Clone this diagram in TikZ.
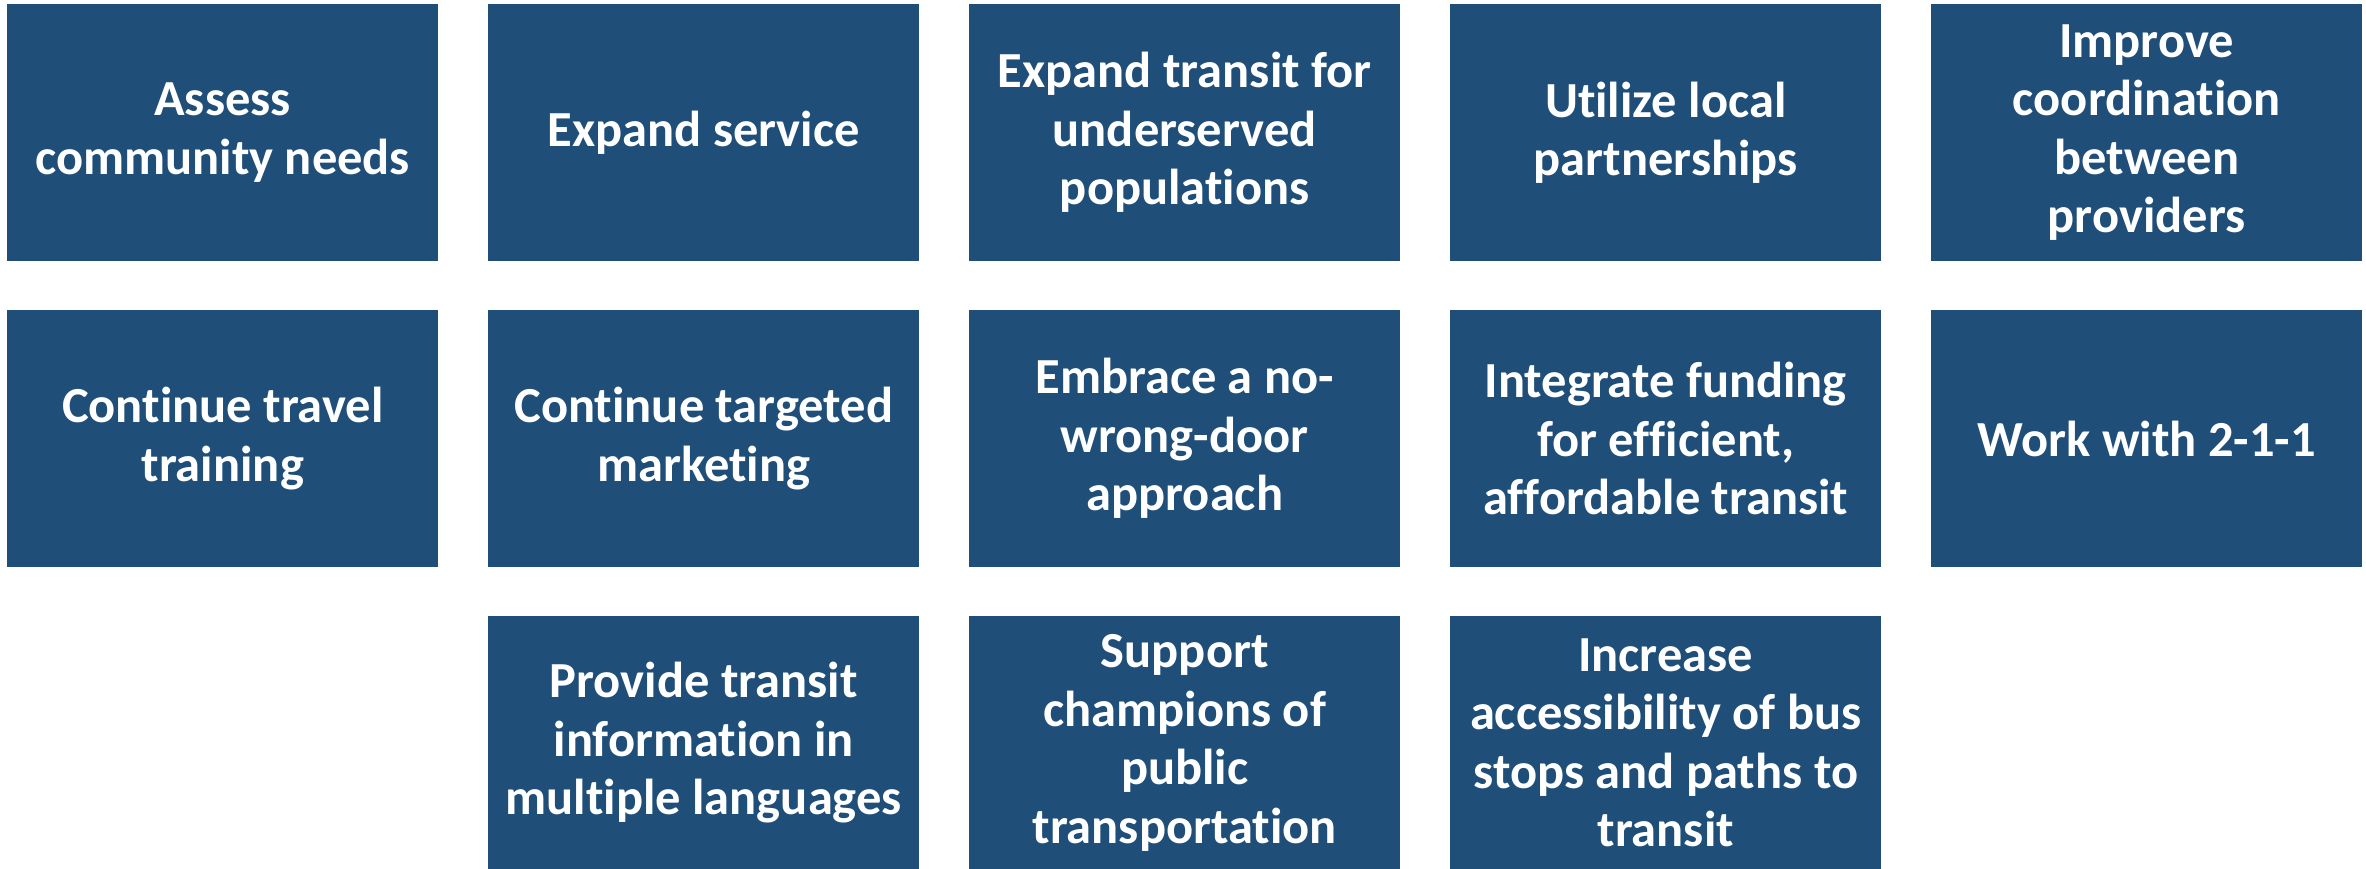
\documentclass[tikz,border=0pt]{standalone}
\usepackage{fontspec}
\setmainfont{Carlito}[Ligatures={NoCommon}]
\definecolor{boxblue}{HTML}{1F4E79}
\tikzset{
  tile/.style={draw=none, fill=boxblue, text=white, anchor=north west,
    minimum width=431pt, minimum height=257pt, inner sep=0pt, align=center,
    font=\fontsize{50.5}{58.5}\selectfont\bfseries},
  lasttile/.style={tile, minimum height=253pt}
}
\begin{document}
\begin{tikzpicture}[x=1pt,y=-1pt]
\useasboundingbox (0,0) rectangle (2366,869);
% row 1
\node[tile] (a1) at (7,4) {Assess\\community needs};
\node[tile] (a2) at (488,4) {Expand service};
\node[tile] (a3) at (969,4) {Expand transit for\\underserved\\populations};
\node[tile] (a4) at (1450,4) {Utilize local\\partnerships};
\node[tile] (a5) at (1931,4) {Improve\\coordination\\between\\providers};
% row 2
\node[tile] (b1) at (7,310) {Continue travel\\training};
\node[tile] (b2) at (488,310) {Continue targeted\\marketing};
\node[tile] (b3) at (969,310) {Embrace a no-\\wrong-door\\approach};
\node[tile] (b4) at (1450,310) {Integrate funding\\for efficient,\\affordable transit};
\node[tile] (b5) at (1931,310) {Work with 2-1-1};
% row 3
\node[lasttile] (c2) at (488,616) {Provide transit\\information in\\multiple languages};
\node[lasttile] (c3) at (969,616) {Support\\champions of\\public\\transportation};
\node[lasttile] (c4) at (1450,616) {Increase\\accessibility of bus\\stops and paths to\\transit};
\end{tikzpicture}
\end{document}
